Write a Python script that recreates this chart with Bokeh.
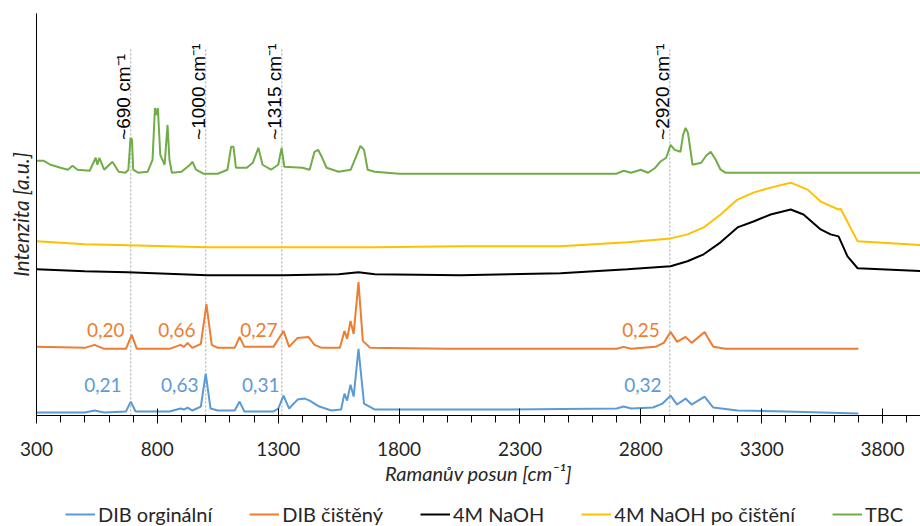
import math
from bokeh.plotting import figure
from bokeh.layouts import column
from bokeh.models import Range1d, FixedTicker, Legend, LegendItem
from bokeh.embed import file_html
from bokeh.resources import INLINE
from bokeh.core.properties import value

# ---------------- data ----------------
# DIB orginální (blue)
dib_orig_x = [300, 500, 540, 580, 670, 690, 710, 850, 896, 910, 925, 945, 980, 1000, 1020, 1050, 1120,
              1140, 1160, 1280, 1300, 1322, 1345, 1380, 1410, 1430, 1470, 1520, 1560, 1574, 1585, 1599,
              1612, 1632, 1655, 1700, 1800, 2200, 2700, 2729, 2760, 2850, 2890, 2923, 2950, 2985, 3010,
              3064, 3080, 3100, 3200, 3400, 3700]
dib_orig_y = [2, 2, 4, 2, 3, 13, 3, 3, 6, 5, 7, 4, 8, 41, 6, 4, 4,
              13, 3, 3, 6, 19, 6, 15, 16, 14, 8, 4, 5, 21, 14, 30,
              18, 66, 11, 5, 5, 5, 6, 8, 6, 7, 11, 19, 10, 16, 10,
              18, 13, 7, 4, 3, 1]

# DIB čištěný (orange)
dib_clean_x = [300, 500, 540, 580, 670, 694, 715, 850, 896, 910, 925, 945, 980, 1003, 1025, 1050, 1120,
               1140, 1160, 1280, 1322, 1345, 1380, 1425, 1450, 1480, 1555, 1574, 1585, 1599, 1612, 1632,
               1650, 1680, 2000, 2700, 2729, 2760, 2860, 2895, 2923, 2950, 2985, 3010, 3064, 3080, 3100,
               3150, 3700]
dib_clean_y = [68, 67, 70, 66, 66, 80, 66, 66, 70, 68, 72, 67, 71, 111, 70, 67, 67,
               78, 68, 68, 84, 68, 77, 78, 70, 67, 67, 84, 76, 94, 81, 133,
               74, 67, 66, 66, 68, 66, 68, 72, 83, 73, 78, 72, 83, 76, 68,
               66, 66]

# 4M NaOH (black)
naoh_x = [300, 500, 676, 1007, 1322, 1550, 1632, 1700, 2054, 2468, 2745, 2923, 2993, 3060, 3130, 3200,
          3266, 3337, 3420, 3473, 3544, 3585, 3618, 3655, 3697, 3980]
naoh_y = [146, 144, 143, 140, 140, 141, 143, 141, 140, 142, 146, 149, 154, 161, 173, 188,
          194, 201, 206, 201, 186, 181, 179, 159, 147, 144]

# 4M NaOH po čištění (yellow)
naoh_clean_x = [300, 500, 676, 1007, 1322, 1700, 2054, 2468, 2745, 2923, 2993, 3060, 3130, 3200, 3266,
                3337, 3420, 3490, 3544, 3618, 3626, 3697, 3980]
naoh_clean_y = [174, 171, 170, 168, 168, 168, 169, 169, 173, 177, 181, 188, 201, 216, 223,
                228, 233, 226, 214, 206, 207, 174, 170]

# TBC (green)
tbc_x = [300, 330, 358, 400, 430, 449, 470, 520, 545, 552, 560, 580, 614, 640, 668, 680, 689, 695, 700,
         720, 760, 780, 790, 796, 802, 812, 830, 842, 850, 860, 900, 935, 945, 960, 990, 1050, 1090,
         1105, 1115, 1125, 1170, 1195, 1218, 1235, 1270, 1300, 1314, 1325, 1400, 1430, 1450, 1465, 1480,
         1500, 1550, 1600, 1620, 1640, 1655, 1670, 1700, 1800, 2000, 2400, 2700, 2729, 2760, 2800, 2830,
         2860, 2880, 2905, 2923, 2940, 2964, 2975, 2985, 2995, 3014, 3050, 3070, 3089, 3110, 3130, 3150,
         3500, 3980]
tbc_y = [255, 255, 251, 248, 246, 250, 246, 245, 258, 251, 258, 246, 254, 244, 243, 246, 278, 276, 246,
         243, 244, 256, 308, 301, 308, 261, 251, 291, 256, 243, 244, 251, 254, 246, 242, 242, 246,
         269, 269, 248, 248, 253, 268, 251, 246, 251, 268, 249, 248, 246, 264, 266, 259,
         248, 244, 246, 258, 270, 266, 246, 244, 242, 242, 242, 242, 245, 243, 246, 243,
         248, 254, 258, 271, 266, 264, 281, 288, 283, 251, 253, 260, 264, 256, 246, 243,
         243, 243]

series_names = ["DIB orginální", "DIB čištěný", "4M NaOH", "4M NaOH po čištění", "TBC"]
series_colors = ["#5B9BD5", "#ED7D31", "#000000", "#FFC000", "#70AD47"]

# marked bands
band_x = [690, 1000, 1315, 2920]
band_labels = ["~690 cm⁻¹", "~1000 cm⁻¹", "~1315 cm⁻¹", "~2920 cm⁻¹"]

# ratio annotations
ratio_clean = ["0,20", "0,66", "0,27", "0,25"]
ratio_orig = ["0,21", "0,63", "0,31", "0,32"]

x_ticks = [300, 800, 1300, 1800, 2300, 2800, 3300, 3800]
x_minor = list(range(300, 4000, 100))

TXT = "#262626"

all_series = [(dib_orig_x, dib_orig_y), (dib_clean_x, dib_clean_y), (naoh_x, naoh_y),
              (naoh_clean_x, naoh_clean_y), (tbc_x, tbc_y)]

# ---------------- main chart ----------------
p = figure(width=920, height=487, output_backend="svg", toolbar_location=None,
           x_range=Range1d(300, 3957), y_range=Range1d(-1, 403),
           min_border_left=36, min_border_right=0, min_border_top=13, min_border_bottom=0)
p.outline_line_color = None
p.xgrid.visible = False
p.ygrid.visible = False

xa = p.xaxis[0]
xa.ticker = FixedTicker(ticks=x_ticks, minor_ticks=x_minor)
xa.axis_line_color = "black"
xa.major_tick_line_color = "black"
xa.minor_tick_line_color = "black"
xa.major_tick_in = 7
xa.major_tick_out = 8
xa.minor_tick_in = 0
xa.minor_tick_out = 7
xa.major_label_text_font = "Lato"
xa.major_label_text_font_size = "19px"
xa.major_label_text_color = TXT
xa.major_label_standoff = 18
xa.axis_label = "Ramanův posun [cm⁻¹]"
xa.axis_label_text_font = "Lato"
xa.axis_label_text_font_style = "italic"
xa.axis_label_text_font_size = "20px"
xa.axis_label_text_color = TXT
xa.axis_label_standoff = 2

ya = p.yaxis[0]
ya.ticker = FixedTicker(ticks=[])
ya.major_tick_in = 0
ya.major_tick_out = 0
ya.minor_tick_in = 0
ya.minor_tick_out = 0
ya.major_label_text_font_size = "0px"
ya.axis_line_color = "black"
ya.axis_label = "Intenzita [a.u.]"
ya.axis_label_text_font = "Lato"
ya.axis_label_text_font_style = "italic"
ya.axis_label_text_font_size = "21px"
ya.axis_label_text_color = TXT
ya.axis_label_standoff = 4

# dotted band markers
p.segment(x0=band_x, y0=[-1] * 4, x1=band_x, y1=[368] * 4,
          line_color="#A6A6A6", line_dash="2 2", line_width=1)

for (xs, ys), c in zip(all_series, series_colors):
    p.line(xs, ys, line_color=c, line_width=2)

# rotated band labels
p.text(x=band_x, y=[276] * 4, text=band_labels, angle=math.pi / 2,
       text_font=value("Liberation Sans"), text_font_size="19px", text_color="black",
       text_align="left", text_baseline="alphabetic", x_offset=-7)

# ratio labels (anchored at their right edge)
ratio_clean_pos = [664, 958, 1297, 2878]
ratio_orig_pos = [652, 970, 1305, 2886]
p.text(x=ratio_clean_pos, y=[85] * 4, text=ratio_clean, text_font=value("Lato"),
       text_font_size="19px", text_color=series_colors[1], text_align="right", text_baseline="middle")
p.text(x=ratio_orig_pos, y=[30] * 4, text=ratio_orig, text_font=value("Lato"),
       text_font_size="19px", text_color=series_colors[0], text_align="right", text_baseline="middle")

# ---------------- legend strip (same series, viewed outside their range) ----------------
leg = figure(width=920, height=39, output_backend="svg", toolbar_location=None,
             x_range=Range1d(0, 1), y_range=Range1d(0, 1),
             x_axis_location=None, y_axis_location=None,
             min_border_left=0, min_border_right=0, min_border_top=0, min_border_bottom=0)
leg.outline_line_color = None
leg.xgrid.visible = False
leg.ygrid.visible = False
leg_renderers = [leg.line(xs, ys, line_color=c, line_width=2)
                 for (xs, ys), c in zip(all_series, series_colors)]
legend = Legend(items=[LegendItem(label=n, renderers=[r]) for n, r in zip(series_names, leg_renderers)],
                orientation="horizontal", location=(29, 0), glyph_width=30, glyph_height=22,
                label_standoff=3, spacing=37, padding=0, margin=0, border_line_color=None,
                background_fill_alpha=0, label_text_font="Lato", label_text_font_size="20px",
                label_text_color=TXT)
leg.add_layout(legend, "center")

layout = column(p, leg, spacing=0)
open("out.html", "w").write(file_html(layout, INLINE))
